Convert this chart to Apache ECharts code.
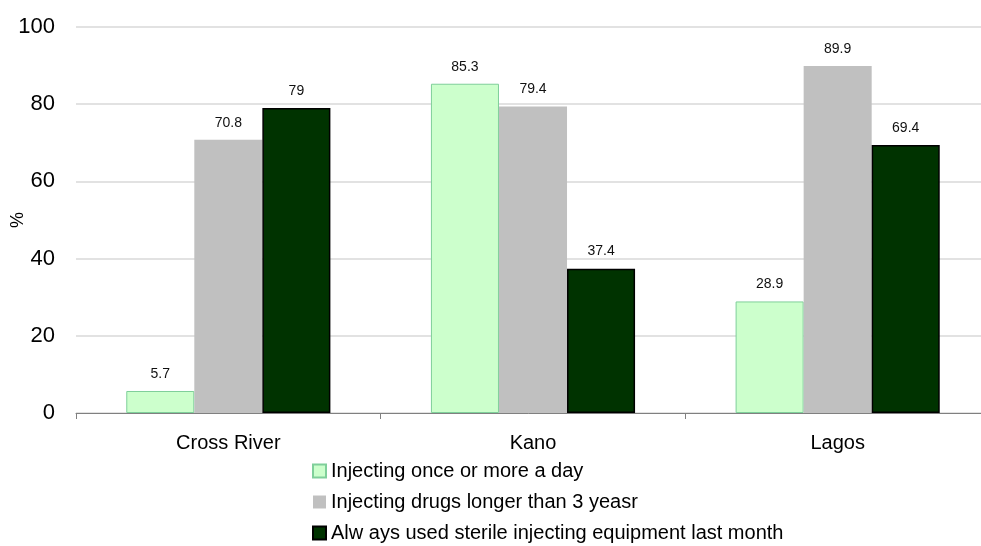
<!DOCTYPE html>
<html><head><meta charset="utf-8">
<script src="https://cdn.jsdelivr.net/npm/echarts@6/dist/echarts.min.js"></script>
<style>html,body{margin:0;padding:0;background:#fff}#c{width:981px;height:546px}</style>
</head><body><div id="c"></div>
<script>
const categories = ['Cross River', 'Kano', 'Lagos'];
const seriesNames = ['Injecting once or more a day', 'Injecting drugs longer than 3 yeasr', 'Alw ays used sterile injecting equipment last month'];
const dailyInjecting = [5.7, 85.3, 28.9];
const longerThan3Years = [70.8, 79.4, 89.9];
const sterileEquipment = [79, 37.4, 69.4];
const yTicks = [0, 20, 40, 60, 80, 100];

const font = 'Liberation Sans, Arial, sans-serif';
const chart = echarts.init(document.getElementById('c'));
const label = {show: true, position: 'top', distance: 10, fontSize: 14, color: '#111', fontFamily: font};
chart.setOption({
  animation: false,
  grid: {left: 76, right: -9, top: 27, bottom: 133, containLabel: false, outerBoundsMode: 'none'},
  legend: {
    orient: 'vertical', left: 312, top: 461, padding: 0, height: 100, itemGap: 11, itemWidth: 13, itemHeight: 13, itemTextGap: 6,
    textStyle: {fontSize: 20, color: '#000', fontFamily: font},
    data: seriesNames.map(n => ({name: n, icon: 'rect'}))
  },
  xAxis: {
    type: 'category', data: categories,
    axisLine: {lineStyle: {color: '#808080', width: 1}},
    axisTick: {show: true, length: 6, lineStyle: {color: '#808080'}},
    axisLabel: {fontSize: 20, color: '#000', fontFamily: font, margin: 20}
  },
  yAxis: {
    type: 'value', min: yTicks[0], max: yTicks[yTicks.length-1], interval: 20,
    name: '%', nameLocation: 'middle', nameGap: 49, nameRotate: 90, nameMoveOverlap: false,
    nameTextStyle: {fontSize: 18, color: '#000', fontFamily: font},
    axisLine: {show: false}, axisTick: {show: false},
    axisLabel: {fontSize: 22, color: '#000', fontFamily: font, margin: 21},
    splitLine: {lineStyle: {color: '#d9d9d9', width: 1.5}}
  },
  series: [
    {name: seriesNames[0], type: 'bar', data: dailyInjecting, barGap: '0%', barCategoryGap: '33%',
     itemStyle: {color: '#ccffcc', borderColor: '#7fcf9a', borderWidth: 1}, label: label},
    {name: seriesNames[1], type: 'bar', data: longerThan3Years,
     itemStyle: {color: '#c0c0c0'}, label: label},
    {name: seriesNames[2], type: 'bar', data: sterileEquipment,
     itemStyle: {color: '#003300', borderColor: '#000', borderWidth: 1.5}, label: label}
  ]
});
</script></body></html>
